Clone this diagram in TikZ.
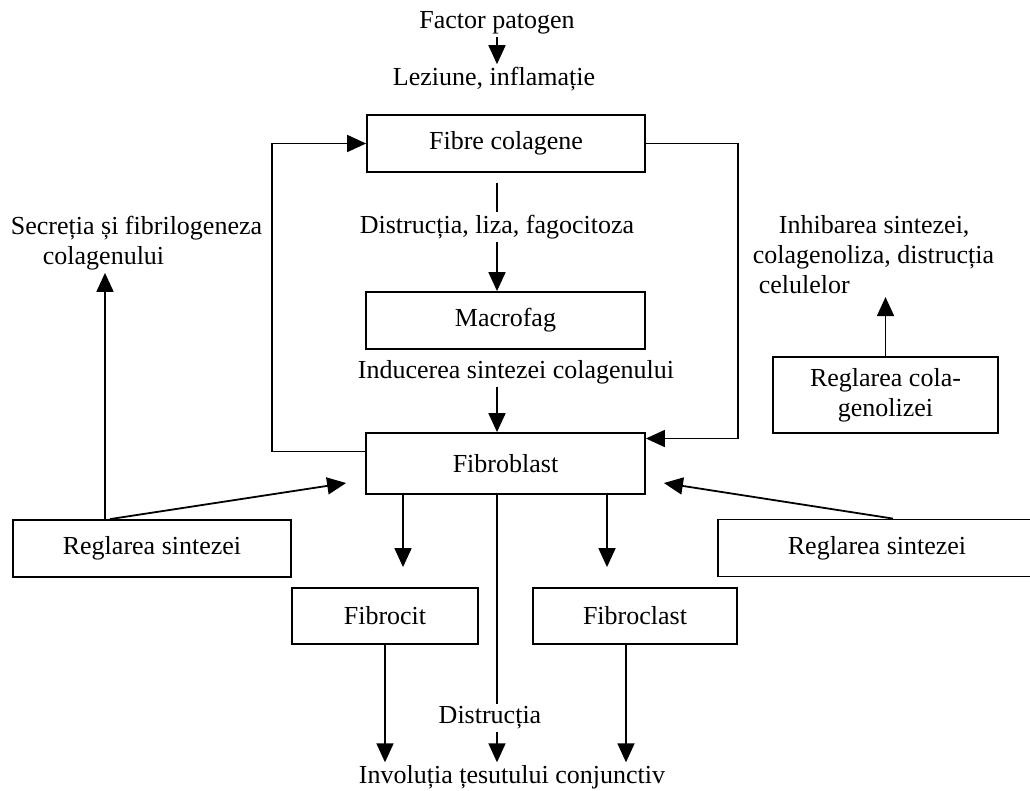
\documentclass[tikz,border=0pt]{standalone}
\usepackage{fontspec}
\setmainfont{Liberation Serif}
\usepackage{tikz}
\usetikzlibrary{arrows.meta,positioning,calc}

\begin{document}
\begin{tikzpicture}[
  x=1pt, y=-1pt,
  font=\fontsize{26}{30}\selectfont,
  line width=1.8pt,
  box/.style={draw, minimum height=57pt, align=center, inner sep=2pt},
  lbl/.style={inner sep=2pt, align=center},
  arr/.style={-{Triangle[length=19pt,width=17pt]}}
]
\useasboundingbox (0,0) rectangle (1030,790);

% ---------- Centru: fibre, macrofag, fibroblast ----------
\node[lbl] (fact) at (497,23) {Factor patogen};
\node[lbl] (lez) at (494,79) {Leziune, inflamație};
\node[box, minimum width=278pt] (fib) at (506,143.5) {Fibre colagene};
\node[lbl] (dliz) at (497,227) {Distrucția, liza, fagocitoza};
\node[box, minimum width=279pt] (mac) at (505.5,320.5) {Macrofag};
\node[lbl] (induc) at (516,372) {Inducerea sintezei colagenului};
\node[box, minimum width=279pt, minimum height=61pt] (fbl) at (505.5,463.5) {Fibroblast};
\draw[arr] (fact.south) -- (fact.south |- lez.north);
\draw[shorten <=10pt] (fib.south -| dliz.north) -- (dliz.north);
\draw[arr] (dliz.south) -- (dliz.south |- mac.north);
\draw[arr] (induc.south -| dliz.south) -- (dliz.south |- fbl.north);

% ---------- Bucle laterale ----------
\draw[arr] ([yshift=12pt]fbl.west) -- ++(-93,0) |- (fib.west);
\draw[arr] (fib.east) -- ++(92,0) |- ([yshift=25pt]fbl.east);

% ---------- Stanga: reglarea sintezei ----------
\node[lbl, anchor=west, align=left] (secr) at (8,243) {Secreția și fibrilogeneza\\\hspace*{32pt}colagenului};
\node[box, minimum width=278pt] (regs) at (152,548.5) {Reglarea sintezei};
\draw[arr] ([xshift=-47pt]regs.north) -- ([xshift=-47pt]regs.north |- secr.south);
\draw[arr] ([xshift=-42pt]regs.north) -- ([xshift=-19pt,yshift=-19.5pt]fbl.west);

% ---------- Dreapta: colagenoliza ----------
\node[lbl, anchor=west, align=left] (inhib) at (750,255) {\hspace*{26pt}Inhibarea sintezei,\\colagenoliza, distrucția\\\hspace*{6pt}celulelor};
\node[box, minimum width=225pt, minimum height=76pt] (regc) at (885.5,395) {Reglarea cola-\\genolizei};
\draw[arr] (regc.north) -- (regc.north |- inhib.south);
\node[box, minimum width=318pt] (regd) at (877,548) {Reglarea sintezei};
\draw[arr] ([xshift=16pt]regd.north) -- ([xshift=18pt,yshift=-19.5pt]fbl.east);

% ---------- Jos: fibrocit, fibroclast ----------
\node[box, minimum width=186pt, minimum height=56pt] (fcit) at (385,616) {Fibrocit};
\node[box, minimum width=204pt, minimum height=56pt] (fcl) at (635,616) {Fibroclast};
\node[lbl] (distr) at (490,718) {Distrucția};
\node[lbl] (invol) at (512,777) {Involuția țesutului conjunctiv};
\draw[arr, shorten >=20pt] ([xshift=-102.5pt]fbl.south) -- ([xshift=-102.5pt]fbl.south |- fcit.north);
\draw[arr, shorten >=20pt] ([xshift=101.5pt]fbl.south) -- ([xshift=101.5pt]fbl.south |- fcl.north);
\draw ([xshift=-8.5pt]fbl.south) -- ([xshift=-8.5pt]fbl.south |- distr.north);
\draw[arr] ([xshift=-8.5pt]fbl.south |- distr.south) -- ([xshift=-8.5pt]fbl.south |- invol.north);
\draw[arr] (fcit.south) -- (fcit.south |- invol.north);
\draw[arr] ([xshift=-9pt]fcl.south) -- ([xshift=-9pt]fcl.south |- invol.north);

\end{tikzpicture}
\end{document}
